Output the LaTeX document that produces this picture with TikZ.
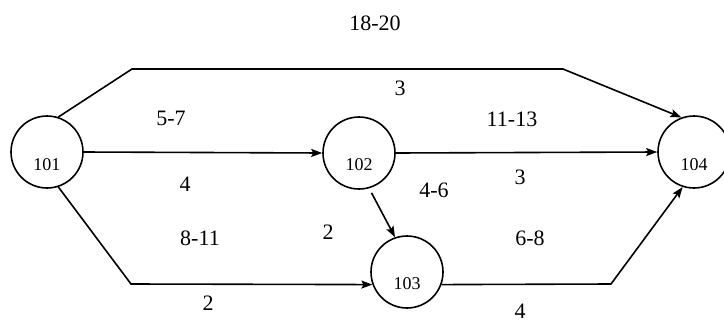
\documentclass[tikz,border=0pt]{standalone}
\usepackage{fontspec}
\setmainfont{Liberation Serif}
\usetikzlibrary{arrows.meta}
\begin{document}
\begin{tikzpicture}[x=1pt,y=-1pt,
  evnode/.style={circle,draw,line width=1.6pt,minimum size=72pt,inner sep=0pt},
  evtext/.style={font=\fontsize{18}{20}\selectfont},
  lbl/.style={font=\fontsize{22}{26}\selectfont,inner sep=0pt},
  conn/.style={line width=1.6pt},
  arr/.style={conn,-{Stealth[length=11pt,width=8pt,inset=2pt]}}]
\useasboundingbox (0,0) rectangle (724,322);
\node[evnode] (n101) at (47,152) {};
\node[evnode] (n102) at (359,153) {};
\node[evnode] (n103) at (407,272) {};
\node[evnode] (n104) at (694,152) {};
\node[evtext] (t101) at (47,165) {101};
\node[evtext] (t102) at (359,165) {102};
\node[evtext] (t103) at (407,284) {103};
\node[evtext] (t104) at (694,165) {104};
\coordinate (b1) at (132,69);
\coordinate (b2) at (563,69);
\coordinate (b3) at (131,284);
\coordinate (b4) at (611,284);
\draw[arr] (n101.72) -- (b1) -- (b2) -- (n104.110);
\draw[arr] (n101.east) -- (n102.west);
\draw[arr] (n102.east) -- (n104.west);
\draw[arr] (n101.-72) -- (b3) -- (n103.200);
\draw[arr] (n103.-20) -- (b4) -- (n104.252);
\draw[arr,shorten <=5pt] (n102.286) -- (n103.109);
\node[lbl] (l1) at (375,23) {18-20};
\node[lbl] (l2) at (400,88) {3};
\node[lbl] (l3) at (171,118) {5-7};
\node[lbl] (l4) at (512,119) {11-13};
\node[lbl] (l5) at (185,184) {4};
\node[lbl] (l6) at (434,190) {4-6};
\node[lbl] (l7) at (520,177) {3};
\node[lbl] (l8) at (328,232) {2};
\node[lbl] (l9) at (200,238) {8-11};
\node[lbl] (l10) at (530,238) {6-8};
\node[lbl] (l11) at (208,303) {2};
\node[lbl] (l12) at (520,311) {4};
\end{tikzpicture}
\end{document}
